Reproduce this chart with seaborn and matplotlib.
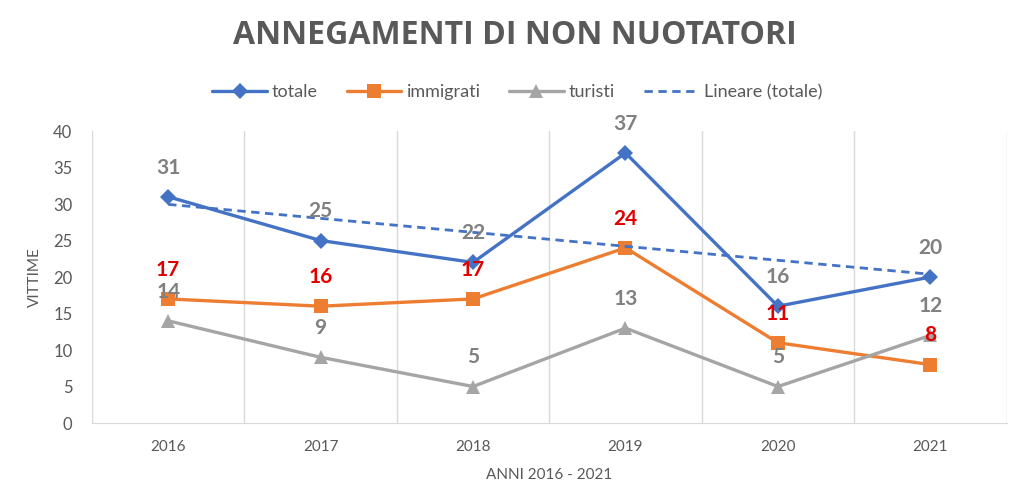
import numpy as np
import pandas as pd
import matplotlib
matplotlib.use('Agg')
import matplotlib.pyplot as plt
import seaborn as sns

anni = [2016, 2017, 2018, 2019, 2020, 2021]
totale = [31, 25, 22, 37, 16, 20]
immigrati = [17, 16, 17, 24, 11, 8]
turisti = [14, 9, 5, 13, 5, 12]

sns.set_style('white')
plt.rcParams['font.family'] = ['Lato', 'DejaVu Sans']

grigio = '#595959'
blu = '#4472C4'
arancio = '#ED7D31'
grigio_serie = '#A5A5A5'
rosso = '#E00000'

fig = plt.figure(figsize=(10.24, 5.04), dpi=100)
ax = fig.add_axes([0.0898, 0.1607, 0.8932, 0.5793])

df = pd.DataFrame({'anno': anni, 'totale': totale,
                   'immigrati': immigrati, 'turisti': turisti})

sns.lineplot(data=df, x='anno', y='totale', ax=ax, color=blu, lw=2.4,
             marker='D', markersize=8, markeredgewidth=0, label='totale')
sns.lineplot(data=df, x='anno', y='immigrati', ax=ax, color=arancio, lw=2.4,
             marker='s', markersize=10, markeredgewidth=0, label='immigrati')
sns.lineplot(data=df, x='anno', y='turisti', ax=ax, color=grigio_serie, lw=2.4,
             marker='^', markersize=10, markeredgewidth=0, label='turisti')
sns.regplot(data=df, x='anno', y='totale', ax=ax, scatter=False, ci=None,
            label='Lineare (totale)',
            line_kws={'color': blu, 'lw': 2, 'ls': (0, (3, 2))})

# etichette dati
for serie, col in [(totale, '#808080'), (turisti, '#808080'), (immigrati, rosso)]:
    for a, v in zip(anni, serie):
        ax.annotate(str(v), (a, v), xytext=(0, 21), textcoords='offset points',
                    ha='center', va='center', fontsize=15, fontweight='bold',
                    color=col)

ax.set_xlim(2015.5, 2021.5)
ax.set_ylim(0, 40)
ax.set_xticks(anni)
ax.set_xticklabels([str(a) for a in anni])
ax.set_xticks(np.arange(2015.5, 2022, 1), minor=True)
ax.set_yticks(range(0, 41, 5))
ax.grid(False)
ax.grid(True, which='minor', axis='x', color='#D9D9D9', lw=1)
ax.tick_params(axis='both', which='both', length=0)
ax.tick_params(axis='y', labelsize=12, labelcolor=grigio, pad=14)
ax.tick_params(axis='x', labelsize=11, labelcolor=grigio, pad=12)
for s in ['top', 'left', 'right']:
    ax.spines[s].set_visible(False)
ax.spines['bottom'].set_color('#D9D9D9')

ax.set_xlabel('ANNI 2016 - 2021', fontsize=11, color=grigio, labelpad=10)
ax.set_ylabel('VITTIME', fontsize=11, color=grigio, labelpad=8)

ax.legend(loc='lower center', bbox_to_anchor=(0.465, 1.05), ncol=4,
          frameon=False, fontsize=13, labelcolor=grigio, handlelength=3.0,
          columnspacing=1.6, handletextpad=0.3)

fig.text(0.503, 0.929, 'ANNEGAMENTI DI NON NUOTATORI', ha='center', va='center',
         fontsize=23, fontweight='bold', color=grigio, family='Open Sans')

fig.savefig('out.png', dpi=100)
